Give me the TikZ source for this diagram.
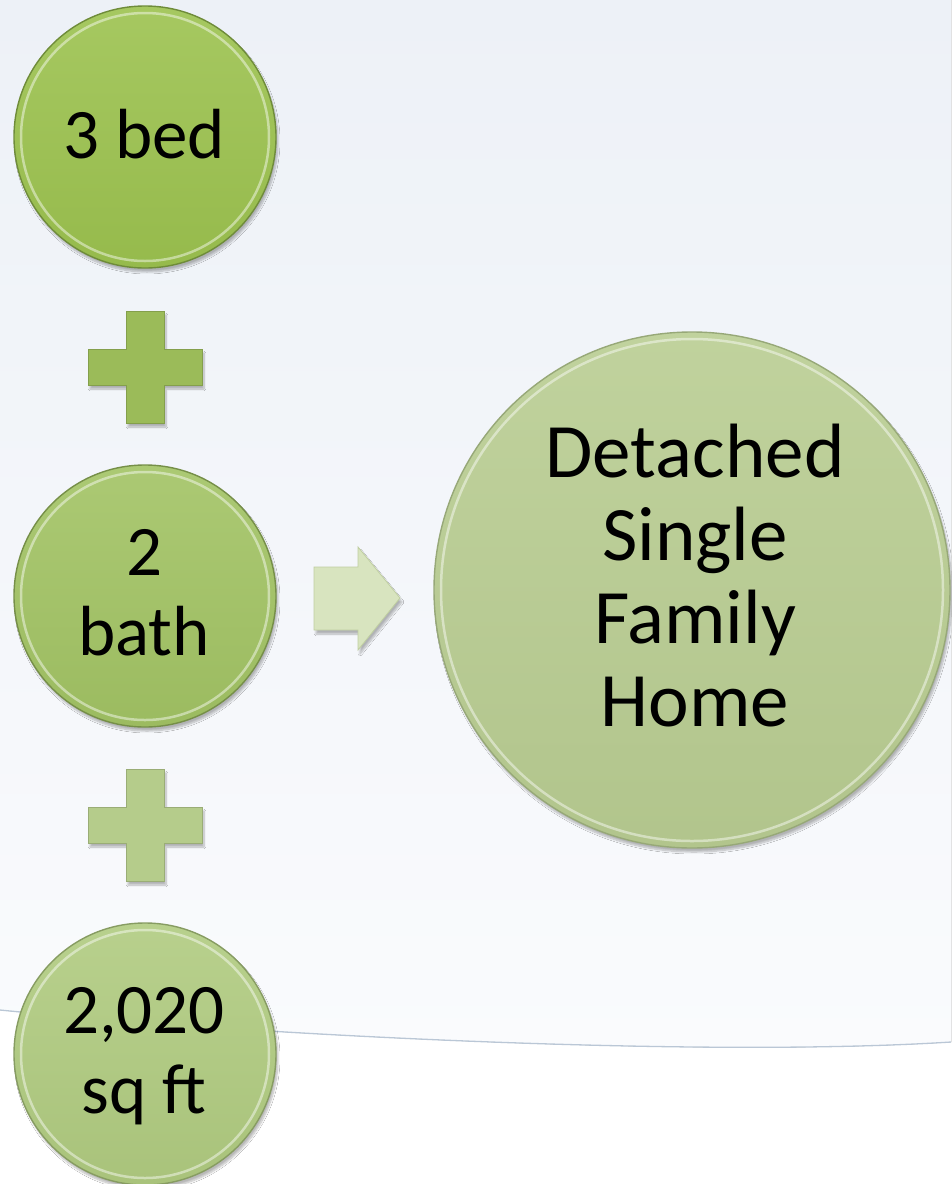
\documentclass[tikz,border=0pt]{standalone}
\usepackage{fontspec}
\setmainfont{Carlito}
\usetikzlibrary{shadows.blur}

% palette
\definecolor{bgtop}{HTML}{EDF1F7}
\definecolor{bgbot}{HTML}{FAFBFD}
\definecolor{horizon}{HTML}{BAC7D6}
\definecolor{cA}{HTML}{9CC24F}
\definecolor{cB}{HTML}{A2C364}
\definecolor{cC}{HTML}{B0CB80}
\definecolor{cD}{HTML}{B9CD92}
\definecolor{rimA}{HTML}{6F8C3A}
\definecolor{rimB}{HTML}{768F48}
\definecolor{rimC}{HTML}{879C62}
\definecolor{rimD}{HTML}{97A878}
\definecolor{plusA}{HTML}{9BBB59}
\definecolor{plusB}{HTML}{B5CC8B}
\definecolor{arrfill}{HTML}{D8E4BF}
\definecolor{arredge}{HTML}{BFCEA0}

\tikzset{
  softshadow/.style={blur shadow={shadow xshift=2pt, shadow yshift=-4pt,
      shadow blur steps=8, shadow opacity=28}},
  bubble/.style n args={3}{circle, inner sep=0pt, minimum size=#1,
    top color=#2!90!white, bottom color=#2!96!black, draw=#3, line width=1.4pt,
    softshadow,
    path picture={\draw[white, opacity=.45, line width=2.5pt]
      (path picture bounding box.center) circle[radius=#1/2-7pt];}},
  lbl/.style={font=\fontsize{71}{80}\selectfont, align=center, inner sep=0pt, text=black},
  biglbl/.style={font=\fontsize{77}{83}\selectfont, align=center, inner sep=0pt, text=black},
  plusshape/.style={fill=#1, draw=#1!85!black, line width=0.8pt, softshadow},
}

\begin{document}
\begin{tikzpicture}[x=1pt, y=-1pt]
  \useasboundingbox (0,0) rectangle (951,1184);

  % backdrop: soft tinted sky above a curved horizon line, white below
  \fill[white] (0,0) rectangle (951,1184);
  \fill[top color=bgtop, bottom color=bgbot]
    (0,0) -- (951,0) -- (951,1042)
    .. controls (700,1058) and (250,1035) .. (0,1010) -- cycle;
  \draw[horizon, line width=1.3pt]
    (0,1010) .. controls (250,1035) and (700,1058) .. (951,1042);

  % the three ingredients
  \node[bubble={262pt}{cA}{rimA}] (bed) at (145,137) {};
  \node[lbl, anchor=base] (bedtext) at (144,158) {3 bed};

  \node[bubble={262pt}{cB}{rimB}] (bath) at (145,596) {};
  \node[lbl, anchor=base] (bathtext) at (144,655) {2\\bath};

  \node[bubble={262pt}{cC}{rimC}] (area) at (145,1054) {};
  \node[lbl, anchor=base] (areatext) at (144,1113) {2,020\\sq ft};

  % plus signs between them
  \begin{scope}[shift={(145,367)}]
    \draw[plusshape=plusA] (-19,-56) -- (19,-56) -- (19,-18) -- (57,-18)
      -- (57,18) -- (19,18) -- (19,56) -- (-19,56) -- (-19,18)
      -- (-57,18) -- (-57,-18) -- (-19,-18) -- cycle;
  \end{scope}
  \begin{scope}[shift={(145,825)}]
    \draw[plusshape=plusB] (-19,-56) -- (19,-56) -- (19,-18) -- (57,-18)
      -- (57,18) -- (19,18) -- (19,56) -- (-19,56) -- (-19,18)
      -- (-57,18) -- (-57,-18) -- (-19,-18) -- cycle;
  \end{scope}

  % block arrow to the result
  \draw[fill=arrfill, draw=arredge, line width=0.8pt, softshadow]
    (314,567) -- (358,567) -- (358,547) -- (400,598) -- (358,650)
    -- (358,630) -- (314,630) -- cycle;

  % the result
  \node[bubble={516pt}{cD}{rimD}] (home) at (692,590) {};
  \node[biglbl, anchor=base] (hometext) at (695,726)
    {Detached\\Single\\Family\\Home};
\end{tikzpicture}
\end{document}
